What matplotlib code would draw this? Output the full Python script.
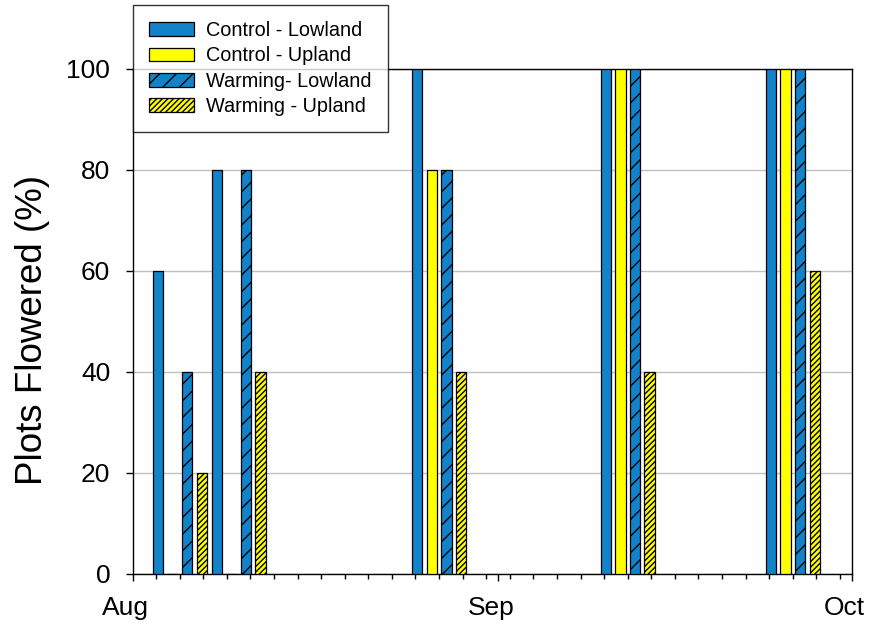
import matplotlib
matplotlib.use('Agg')
import matplotlib.pyplot as plt
import matplotlib.dates as mdates
import matplotlib.transforms as mtransforms
import datetime as dt

plt.rcParams['font.family'] = ['Liberation Sans', 'DejaVu Sans']
plt.rcParams['hatch.linewidth'] = 1.0

# ---- data ----
dates = [dt.date(2013, 8, 5), dt.date(2013, 8, 10), dt.date(2013, 8, 27),
         dt.date(2013, 9, 12), dt.date(2013, 9, 26)]
series_names = ['Control - Lowland', 'Control - Upland', 'Warming- Lowland', 'Warming - Upland']
control_lowland = [60, 80, 100, 100, 100]
control_upland = [0, 0, 80, 100, 100]
warming_lowland = [40, 80, 80, 100, 100]
warming_upland = [20, 40, 40, 40, 60]
yticks = [0, 20, 40, 60, 80, 100]
xtick_dates = [dt.date(2013, 8, 1), dt.date(2013, 9, 1), dt.date(2013, 10, 1)]
xtick_labels = ['Aug', 'Sep', 'Oct']

blue = '#1083CB'
yellow = '#FFFF00'
styles = [(blue, ''), (yellow, ''), (blue, '//'), (yellow, '//////')]
values = [control_lowland, control_upland, warming_lowland, warming_upland]

fig = plt.figure(figsize=(8.71, 6.32), dpi=100)
ax = fig.add_axes([0.1522, 0.0918, 0.9778 - 0.1522, 0.891 - 0.0918])

x0 = mdates.date2num(dates)
slot = 1.24
width = 0.87
for i, (vals, name, (col, hatch)) in enumerate(zip(values, series_names, styles)):
    ax.bar(x0 + (i - 1.5) * slot, vals, width=width, color=col, edgecolor='black',
           linewidth=0.9, hatch=hatch, label=name, zorder=3)

ax.set_xlim(mdates.date2num(xtick_dates[0]), mdates.date2num(xtick_dates[-1]))
ax.set_ylim(0, 100)
ax.set_yticks(yticks)
ax.set_xticks(mdates.date2num(xtick_dates))
ax.set_xticklabels(xtick_labels)
ax.xaxis.set_minor_locator(
    matplotlib.ticker.FixedLocator(
        [mdates.date2num(xtick_dates[0]) + d for d in range(0, 62, 2)]))

ax.tick_params(axis='both', which='major', direction='out', length=5, width=1,
               labelsize=19, pad=11)
ax.tick_params(axis='x', which='minor', direction='out', length=3.3, width=1)
ax.tick_params(axis='y', which='minor', left=False)

for sp in ax.spines.values():
    sp.set_linewidth(1.0)

ax.yaxis.grid(True, color='#c0c0c0', linewidth=1.0)
ax.set_axisbelow(True)

ax.set_ylabel('Plots Flowered (%)', fontsize=26.5)
ax.yaxis.set_label_coords(-0.1154, 0.484)

offset = mtransforms.ScaledTranslation(-7 / 100, 0, fig.dpi_scale_trans)
for lbl in ax.get_xticklabels():
    lbl.set_transform(lbl.get_transform() + offset)

leg = fig.legend(loc='upper left', bbox_to_anchor=(133 / 871, 1 - 5 / 632),
                 bbox_transform=fig.transFigure, borderaxespad=0,
                 fontsize=14.3, frameon=True, fancybox=False, edgecolor='black',
                 handlelength=2.26, handleheight=0.7, handletextpad=0.6,
                 labelspacing=0.31, borderpad=0.82)
leg.get_frame().set_linewidth(1.0)

fig.savefig('out.png', dpi=100)
